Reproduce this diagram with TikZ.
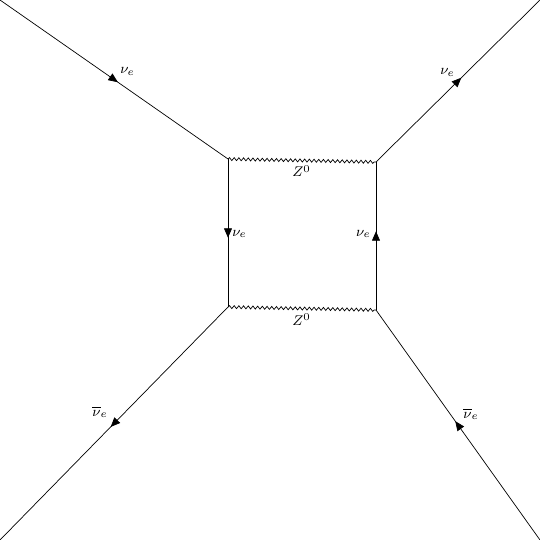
\documentclass[tikz,border=0pt]{standalone}
\usetikzlibrary{decorations.markings,decorations.pathmorphing,arrows.meta}
\tikzset{
  fermion/.style={draw,postaction={decorate},decoration={markings,mark=at position 0.5 with {\arrow[xshift=0.95mm]{Triangle[length=1.9mm,width=1.6mm]}}}},
  boson/.style={draw,decorate,decoration={snake,amplitude=0.03cm,segment length=0.094cm}},
  lbl/.style={inner sep=0pt,font=\footnotesize}
}
\begin{document}
\begin{tikzpicture}[x=0.02cm,y=-0.02cm]
\useasboundingbox (0,0) rectangle (540,540);
\coordinate (o1) at (0,0);
\coordinate (o2) at (540,0);
\coordinate (o3) at (0,540);
\coordinate (o4) at (540,540);
\coordinate (v1) at (228,159);
\coordinate (v2) at (376,162);
\coordinate (v3) at (228,307);
\coordinate (v4) at (376,310);
\path[fermion] (o1) -- (v1);
\path[fermion] (v2) -- (o2);
\path[fermion] (v3) -- (o3);
\path[fermion] (o4) -- (v4);
\path[fermion] (v1) -- (v3);
\path[fermion] (v4) -- (v2);
\path[boson] (v1) -- (v2);
\path[boson] (v3) -- (v4);
\node[lbl,anchor=base west] (l1) at (120,74) {$\nu_e$};
\node[lbl,anchor=base west] (l2) at (440,75) {$\nu_e$};
\node[lbl,anchor=base west] (l3) at (92,416) {$\overline{\nu}_e$};
\node[lbl,anchor=base west] (l4) at (463,418) {$\overline{\nu}_e$};
\node[lbl,anchor=base west] (l5) at (232,236) {$\nu_e$};
\node[lbl,anchor=base east] (l6) at (371,236) {$\nu_e$};
\node[lbl,anchor=base] (z1) at (301.5,177) {$Z^0$};
\node[lbl,anchor=base] (z2) at (301.5,325) {$Z^0$};
\end{tikzpicture}
\end{document}
